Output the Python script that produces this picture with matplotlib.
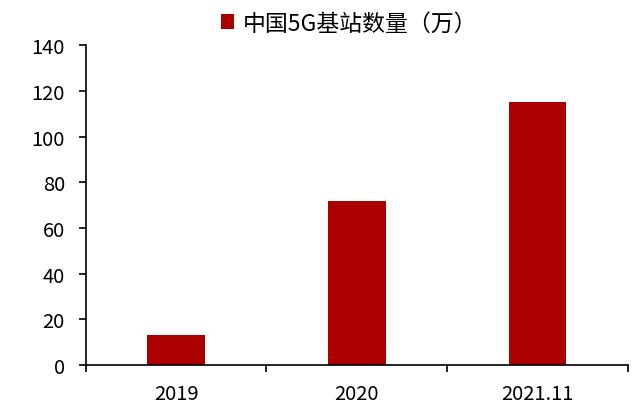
import matplotlib
matplotlib.use("Agg")
import matplotlib.pyplot as plt

plt.rcParams['font.family'] = ['Noto Sans CJK SC', 'DejaVu Sans']

# 中国5G基站数量（万）
categories = ["2019", "2020", "2021.11"]
values = [13.0, 71.8, 115.2]
yticks = [0, 20, 40, 60, 80, 100, 120, 140]

fig = plt.figure(figsize=(6.4, 4.14), dpi=100)
ax = fig.add_axes([0.134, 0.116, 0.847, 0.772])

x = list(range(len(categories)))
ax.bar(x, values, width=0.32, color="#AA0000", label="中国5G基站数量（万）")

ax.set_xlim(-0.5, len(categories) - 0.5)
ax.set_ylim(0, 140)
ax.set_yticks(yticks)
ax.set_yticklabels([str(t) for t in yticks], fontsize=14.5)

# 主刻度放在类别分界处，标签放在次刻度上
ax.set_xticks([i - 0.5 for i in range(len(categories) + 1)])
ax.set_xticklabels([])
ax.set_xticks(x, minor=True)
ax.set_xticklabels(categories, minor=True, fontsize=14.5)
ax.tick_params(axis="x", which="minor", length=0, pad=13)
ax.tick_params(axis="x", which="major", length=5, width=1.2, direction="out")
ax.tick_params(axis="y", length=5, width=1.2, direction="out", pad=10)

for side in ["top", "right"]:
    ax.spines[side].set_visible(False)
ax.spines["left"].set_linewidth(1.2)
ax.spines["bottom"].set_linewidth(1.2)

fig.legend(loc="upper center", bbox_to_anchor=(0.545, 1.02), frameon=False,
           fontsize=16.5, handlelength=0.6, handleheight=0.6, handletextpad=0.35)

fig.savefig("out.png", dpi=100)
